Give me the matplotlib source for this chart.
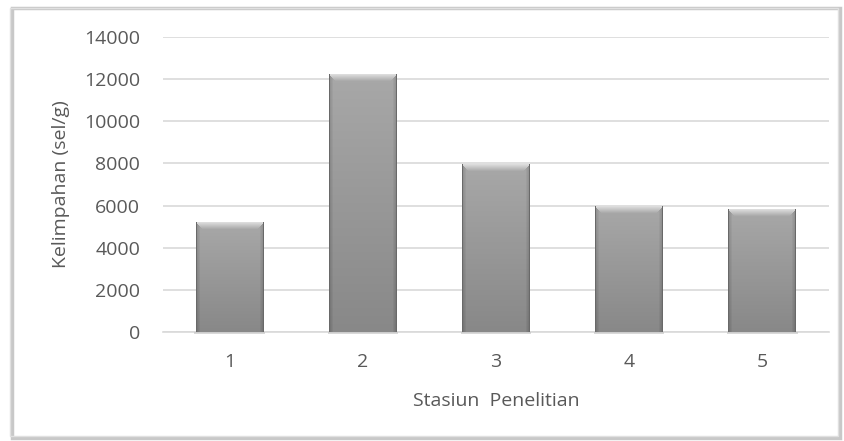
import matplotlib
matplotlib.use("Agg")
import matplotlib.pyplot as plt
import numpy as np
from matplotlib.patches import Rectangle

categories = ["1", "2", "3", "4", "5"]
values = [5200, 12200, 7930, 5950, 5800]
yticks = [0, 2000, 4000, 6000, 8000, 10000, 12000, 14000]

plt.rcParams['font.family'] = ['Open Sans', 'DejaVu Sans']
W, H = 845, 441
fig = plt.figure(figsize=(W/100, H/100), dpi=100)
ax = fig.add_axes([163/W, 1-332/H, (829-163)/W, (332-37)/H])

txt = '#595959'
x = np.arange(len(categories))
ax.set_xlim(-0.5, len(categories) - 0.5)
ax.set_ylim(0, 14000)
bars = ax.bar(x, values, width=0.51, color='#9a9a9a', edgecolor='none', zorder=3)


def bevel_image(wpx, hpx):
    wpx = max(int(round(wpx)), 2)
    hpx = max(int(round(hpx)), 2)
    yy, xx = np.mgrid[0:hpx, 0:wpx].astype(float)
    dtop = yy + 0.5
    dleft = xx + 0.5
    dright = wpx - xx - 0.5
    dside = np.minimum(dleft, dright)
    t = yy / max(hpx - 1, 1)
    g = 168 - 32 * t
    bev = 7.0
    top_zone = (dtop < bev) & (dtop <= dside)
    side_zone = (dside < 4.0) & ~top_zone
    g = np.where(side_zone, g - 28 + 6 * dside, g)
    g = np.where(top_zone, 225 - (225 - 168) * (dtop / bev), g)
    g = np.where(dside < 1.2, 105, g)
    g = np.clip(g, 0, 255) / 255.0
    return np.dstack([g, g, g])


fig.canvas.draw()
for b in bars:
    x0, y0 = b.get_x(), b.get_y()
    w, h = b.get_width(), b.get_height()
    p0 = ax.transData.transform((x0, y0))
    p1 = ax.transData.transform((x0 + w, y0 + h))
    img = bevel_image(p1[0] - p0[0], p1[1] - p0[1])
    ax.imshow(img, extent=[x0, x0 + w, y0, y0 + h], origin='upper', aspect='auto',
              zorder=3.5, interpolation='nearest')
    # soft shadow below bar
    ax.add_patch(Rectangle((x0 - 0.01, y0 - 110), w + 0.02, 110, facecolor='#c0c0c0',
                           edgecolor='none', alpha=0.6, zorder=2.5, clip_on=False))

ax.set_xlim(-0.5, len(categories) - 0.5)
ax.set_ylim(0, 14000)
ax.set_yticks(yticks)
ax.set_yticklabels([str(v) for v in yticks])
ax.set_xticks(x)
ax.set_xticklabels(categories)
ax.yaxis.grid(True, color='#d9d9d9', linewidth=1.2, zorder=0)
ax.set_axisbelow(True)
for s in ['top', 'right', 'left']:
    ax.spines[s].set_visible(False)
ax.spines['bottom'].set_color('#d9d9d9')
ax.spines['bottom'].set_linewidth(1.2)
ax.spines['bottom'].set_zorder(2)
ax.tick_params(axis='both', length=0, labelsize=14, colors=txt)
ax.tick_params(axis='y', pad=16.5)
ax.tick_params(axis='x', pad=15)
ax.set_xlabel('Stasiun  Penelitian', fontsize=14, color=txt, labelpad=15)
ax.set_ylabel('Kelimpahan (sel/g)', fontsize=14, color=txt)
ax.yaxis.set_label_coords((70 - 163) / (829 - 163), 0.5)

# outer frame with shadow
fig.patches.append(Rectangle((12/W, 1-438/H), (840-12)/W, (438-8)/H, transform=fig.transFigure,
                             facecolor='none', edgecolor='#c8c8c8', linewidth=2.5, zorder=0))
fig.patches.append(Rectangle((10/W, 1-436/H), (838-10)/W, (436-8)/H, transform=fig.transFigure,
                             facecolor='none', edgecolor='#e0e0e0', linewidth=1.0, zorder=0))

fig.savefig('out.png', dpi=100)
